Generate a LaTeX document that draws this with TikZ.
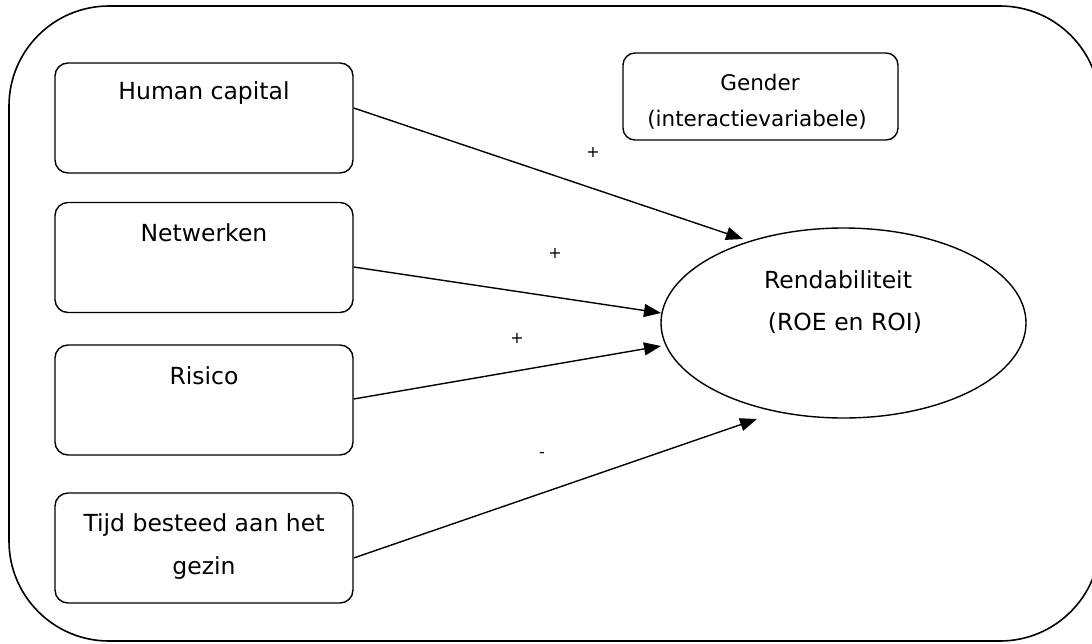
\documentclass[tikz,border=0pt]{standalone}
\usepackage{fontspec}
\setmainfont{DejaVu Sans}
\usetikzlibrary{arrows.meta,calc,shapes.geometric}
\begin{document}
\begin{tikzpicture}[x=1pt,y=-1pt,
  frame/.style={draw,line width=1.6pt,rounded corners=100pt},
  varbox/.style={draw,line width=1.4pt,rounded corners=13pt,minimum width=298pt,minimum height=110pt,inner sep=0pt},
  boxtext/.style={font=\fontsize{23.5}{28}\selectfont,inner sep=0pt,align=center},
  smalltext/.style={font=\fontsize{21.5}{26}\selectfont,inner sep=0pt,align=center},
  signtext/.style={font=\fontsize{16}{18}\selectfont,inner sep=0pt},
  conn/.style={line width=1.4pt,-{Triangle[length=17pt,width=13pt]}}]
\useasboundingbox (0,0) rectangle (1092,643);
\draw[frame] (9,6) rectangle (1100,641);

\node[varbox] (hc) at (204,118) {};
\node[varbox] (nw) at (204,257.5) {};
\node[varbox] (ri) at (204,400) {};
\node[varbox] (ti) at (204,548) {};
\node[boxtext] (thc) at (204,93) {Human capital};
\node[boxtext] (tnw) at (204,233) {Netwerken};
\node[boxtext] (tri) at (204,376) {Risico};
\node[boxtext] (tti1) at (204,525) {Tijd besteed aan het};
\node[boxtext] (tti2) at (204,568) {gezin};

\node[draw,line width=1.4pt,rounded corners=12pt,minimum width=275pt,minimum height=87pt,inner sep=0pt] (gd) at (760.5,96.5) {};
\node[smalltext] (tgd1) at (760,82) {Gender};
\node[smalltext] (tgd2) at (757,120) {(interactievariabele)};

\node[draw,ellipse,line width=1.4pt,minimum width=365pt,minimum height=190pt,inner sep=0pt] (re) at (843.5,323) {};
\node[boxtext] (tre1) at (838,280) {Rendabiliteit};
\node[boxtext] (tre2) at (845,323) {(ROE en ROI)};

\coordinate (e1) at (743,239);
\coordinate (e2) at (661,313);
\coordinate (e3) at (661,346);
\coordinate (e4) at (757,419);
\draw[conn] ($(hc.east)+(0,-10)$) -- (e1);
\draw[conn] ($(nw.east)+(0,9.5)$) -- (e2);
\draw[conn] ($(ri.east)+(0,-1)$) -- (e3);
\draw[conn] ($(ti.east)+(0,10)$) -- (e4);

\node[signtext] (s1) at (593,152) {+};
\node[signtext] (s2) at (555,253) {+};
\node[signtext] (s3) at (517,338) {+};
\node[signtext] (s4) at (542,455) {-};
\end{tikzpicture}
\end{document}
